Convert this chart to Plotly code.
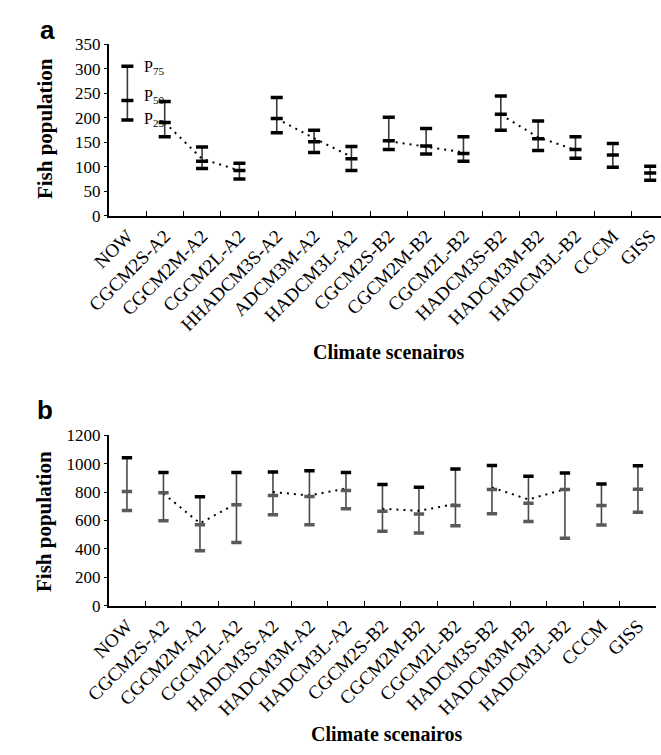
import plotly.graph_objects as go

# ---------------- data ----------------
cats_a = ["NOW", "CGCM2S-A2", "CGCM2M-A2", "CGCM2L-A2", "HHADCM3S-A2", "ADCM3M-A2",
          "HADCM3L-A2", "CGCM2S-B2", "CGCM2M-B2", "CGCM2L-B2", "HADCM3S-B2",
          "HADCM3M-B2", "HADCM3L-B2", "CCCM", "GISS"]
p25_a = [195, 161, 96, 75, 169, 129, 92, 135, 126, 111, 174, 133, 117, 99, 72]
p50_a = [235, 190, 111, 92, 198, 151, 116, 153, 142, 127, 207, 157, 135, 124, 87]
p75_a = [305, 233, 140, 107, 241, 174, 141, 201, 178, 161, 244, 193, 161, 147, 101]
mean_a = [None, 190, 116, 92, 198, 158, 120, 152, 141, 129, 206, 160, 134, None, None]

cats_b = ["NOW", "CGCM2S-A2", "CGCM2M-A2", "CGCM2L-A2", "HADCM3S-A2", "HADCM3M-A2",
          "HADCM3L-A2", "CGCM2S-B2", "CGCM2M-B2", "CGCM2L-B2", "HADCM3S-B2",
          "HADCM3M-B2", "HADCM3L-B2", "CCCM", "GISS"]
p25_b = [671, 598, 387, 444, 641, 570, 682, 524, 511, 563, 648, 593, 474, 568, 657]
p50_b = [804, 795, 570, 710, 776, 769, 811, 664, 646, 705, 818, 721, 818, 705, 820]
p75_b = [1042, 937, 767, 937, 941, 950, 937, 854, 834, 962, 987, 911, 934, 857, 985]
mean_b = [None, 790, 580, 720, 800, 776, 825, 682, 668, 716, 832, 748, 820, None, None]

groups = [[1, 2, 3], [4, 5, 6], [7, 8, 9], [10, 11, 12]]

W, H = 661, 755
SERIF = "Liberation Serif"

fig = go.Figure()


def add_panel(cats, p25, p50, p75, mean, xa, ya, cap_mid, cap_low, stem, capsize):
    # stems (P25..P75)
    fig.add_trace(go.Scatter(
        x=cats, y=p50, mode="markers", xaxis=xa, yaxis=ya,
        marker=dict(size=1, color="rgba(0,0,0,0)"),
        error_y=dict(type="data", symmetric=False,
                     array=[h - m for h, m in zip(p75, p50)],
                     arrayminus=[m - l for m, l in zip(p50, p25)],
                     width=0, thickness=1.6, color=stem),
        showlegend=False, hoverinfo="skip"))
    # dotted mean lines per group
    for g in groups:
        fig.add_trace(go.Scatter(
            x=[cats[i] for i in g], y=[mean[i] for i in g], mode="lines",
            xaxis=xa, yaxis=ya,
            line=dict(color="black", width=2, dash="2px,5px"),
            showlegend=False, hoverinfo="skip"))
    # caps
    for vals, col in ((p75, "black"), (p50, cap_mid), (p25, cap_low)):
        fig.add_trace(go.Scatter(
            x=cats, y=vals, mode="markers", xaxis=xa, yaxis=ya,
            marker=dict(symbol="line-ew", size=capsize,
                        line=dict(color=col, width=3.5)),
            showlegend=False, hoverinfo="skip"))


add_panel(cats_a, p25_a, p50_a, p75_a, mean_a, "x", "y", "black", "black", "#3a3a3a", 8.6)
add_panel(cats_b, p25_b, p50_b, p75_b, mean_b, "x2", "y2", "#5a5a5a", "#5a5a5a", "#4a4a4a", 7.4)

xcommon = dict(type="category", tickson="boundaries", ticks="inside", ticklen=5,
               tickcolor="black", tickwidth=1.3, showline=True, linecolor="black",
               linewidth=1.6, showgrid=False, zeroline=False, tickangle=-45,
               tickfont=dict(family=SERIF, size=19, color="black"))
ycommon = dict(showline=True, linecolor="black", linewidth=1.6, showgrid=False,
               zeroline=False, ticks="outside", ticklen=3, tickcolor="black",
               tickfont=dict(family=SERIF, size=17, color="black"))

fig.update_layout(
    width=W, height=H, margin=dict(l=0, r=0, t=0, b=0),
    paper_bgcolor="white", plot_bgcolor="white", showlegend=False,
    xaxis=dict(domain=[87 / W, 1], range=[-0.5, 14.29], anchor="y", **xcommon),
    yaxis=dict(domain=[1 - 212 / H, 1 - 36 / H], range=[0, 350], dtick=50,
               anchor="x", **ycommon),
    xaxis2=dict(domain=[87 / W, 656 / W], range=[-0.5, 14.5], anchor="y2", **xcommon),
    yaxis2=dict(domain=[1 - 612 / H, 1 - 437.3 / H], range=[0, 1200], dtick=200,
                anchor="x2", **ycommon),
)

ann = []
# panel letters
ann.append(dict(text="<b>a</b>", x=14 / W, y=1 - 4 / H, xanchor="left", yanchor="top",
                font=dict(family="Liberation Sans", size=26, color="black")))
ann.append(dict(text="<b>b</b>", x=10 / W, y=1 - 394 / H, xanchor="left", yanchor="top",
                font=dict(family="Liberation Sans", size=26, color="black")))
# y titles
ann.append(dict(text="<b>Fish population</b>", x=21 / W, y=1 - 123 / H, textangle=-90,
                xanchor="center", yanchor="middle",
                font=dict(family=SERIF, size=21, color="black")))
ann.append(dict(text="<b>Fish population</b>", x=20 / W, y=1 - 526 / H, textangle=-90,
                xanchor="center", yanchor="middle",
                font=dict(family=SERIF, size=21, color="black")))
# x titles
ann.append(dict(text="<b>Climate scenairos</b>", x=378 / W, y=1 - 352 / H,
                xanchor="center", yanchor="middle",
                font=dict(family=SERIF, size=20, color="black")))
ann.append(dict(text="<b>Climate scenairos</b>", x=376 / W, y=1 - 744 / H,
                xanchor="center", yanchor="middle",
                font=dict(family=SERIF, size=20, color="black")))
# percentile labels
for txt, py in (("P<sub>75</sub>", 60), ("P<sub>50</sub>", 90), ("P<sub>25</sub>", 113)):
    ann.append(dict(text=txt, x=122 / W, y=1 - py / H, xanchor="left", yanchor="middle",
                    font=dict(family=SERIF, size=16, color="black")))

for a in ann:
    a.update(xref="paper", yref="paper", showarrow=False)
fig.update_layout(annotations=ann)

fig.write_html("out.html")
